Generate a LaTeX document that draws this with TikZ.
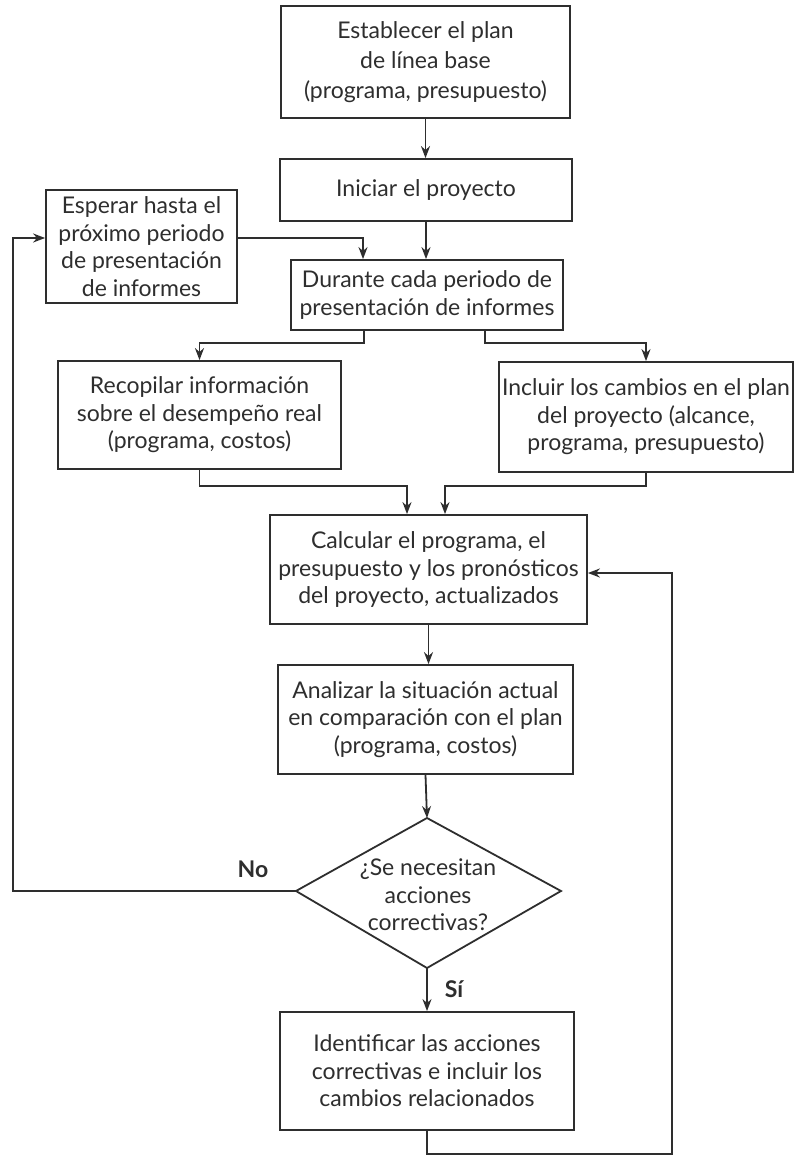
\documentclass[tikz,border=0pt]{standalone}
\usepackage{fontspec}
\setmainfont{Lato}
\usetikzlibrary{arrows.meta,calc}
\definecolor{ink}{HTML}{2E2E2E}
\tikzset{
  box/.style={draw=ink, line width=1.8pt, text=ink, align=center, inner sep=2pt,
    font=\fontsize{23}{27.5}\selectfont},
  dtext/.style={text=ink, align=center, inner sep=0pt, font=\fontsize{23}{27.5}\selectfont},
  conn/.style={draw=ink, line width=1.8pt},
  arr/.style={conn, -{Stealth[length=12pt,width=9pt]}},
  lbl/.style={text=ink, font=\fontsize{23}{27.5}\selectfont\bfseries, inner sep=0pt}
}
\begin{document}
\begin{tikzpicture}[x=1pt,y=-1pt]
\useasboundingbox[fill=white] (0,0) rectangle (798,1155);
\node[box, minimum width=289pt, minimum height=112pt, font=\fontsize{23}{30}\selectfont] (b1) at (425.5,62) {Establecer el plan\\de línea base\\(programa, presupuesto)};
\node[box, minimum width=292pt, minimum height=62pt] (b2) at (426,190) {Iniciar el proyecto};
\node[box, minimum width=191pt, minimum height=113pt] (esp) at (141.5,246.5) {Esperar hasta el\\próximo periodo\\de presentación\\de informes};
\node[box, minimum width=272pt, minimum height=70pt] (dur) at (427,295) {Durante cada periodo de\\presentación de informes};
\node[box, minimum width=283pt, minimum height=108pt] (rec) at (199.5,415) {Recopilar información\\sobre el desempeño real\\(programa, costos)};
\node[box, minimum width=294pt, minimum height=110pt] (inc) at (646,417) {Incluir los cambios en el plan\\del proyecto (alcance,\\programa, presupuesto)};
\node[box, minimum width=317pt, minimum height=109pt] (cal) at (428.5,569.5) {Calcular el programa, el\\presupuesto y los pronósticos\\del proyecto, actualizados};
\node[box, minimum width=295pt, minimum height=109pt] (ana) at (425.5,719.5) {Analizar la situación actual\\en comparación con el plan\\(programa, costos)};
\node[dtext] (dia) at (428,895) {¿Se necesitan\\acciones\\correctivas?};
\coordinate (dT) at (427,818);
\coordinate (dL) at (296,891);
\coordinate (dR) at (561,891);
\coordinate (dB) at (427,968);
\draw[conn, line join=miter] (dT) -- (dR) -- (dB) -- (dL) -- cycle;
\node[box, minimum width=294pt, minimum height=118pt] (ide) at (427,1071) {Identificar las acciones\\correctivas e incluir los\\cambios relacionados};
\coordinate (xl) at (13,0);
\coordinate (xr) at (672,0);
\coordinate (ca) at ($(cal.east)+(0,3.5)$);
\node[lbl] (no) at (253,869) {No};
\node[lbl] (si) at (454,989) {Sí};
% connectors
\draw[arr] (b1.south) -- (b1.south |- b2.north);
\draw[arr] (b2.south) -- (b2.south |- dur.north);
\draw[arr] ($(esp.east)+(0,-8.5)$) -| ($(dur.north)+(-64,0)$);
\draw[arr] ($(dur.south)+(-63,0)$) -- ++(0,12) -| (rec.north);
\draw[arr] ($(dur.south)+(58,0)$) -- ++(0,12) -| (inc.north);
\draw[arr] (rec.south) -- ++(0,16) -| ($(cal.north)+(-21.5,0)$);
\draw[arr] (inc.south) -- ++(0,13) -| ($(cal.north)+(16.5,0)$);
\draw[arr] (cal.south) -- (cal.south |- ana.north);
\draw[arr] (ana.south) -- (dT);
\draw[arr] (dL) -- (dL -| xl) |- ($(esp.west)+(0,-8.5)$);
\draw[arr] (dB) -- (ide.north);
\draw[arr] (ide.south) -- ++(0,23) -| (xr |- ca) -- (ca);
\end{tikzpicture}
\end{document}
